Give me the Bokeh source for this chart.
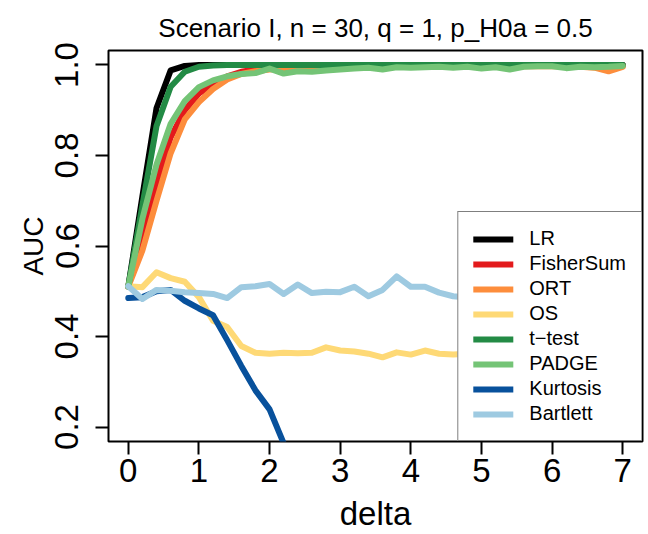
from bokeh.plotting import figure
from bokeh.models import Range1d, FixedTicker, Legend, LegendItem
from bokeh.embed import file_html
from bokeh.resources import INLINE

delta = [0.0, 0.2, 0.4, 0.6, 0.8, 1.0, 1.2, 1.4, 1.6, 1.8, 2.0, 2.2, 2.4, 2.6, 2.8,
         3.0, 3.2, 3.4, 3.6, 3.8, 4.0, 4.2, 4.4, 4.6, 4.8, 5.0, 5.2, 5.4, 5.6, 5.8,
         6.0, 6.2, 6.4, 6.6, 6.8, 7.0]

lr = [0.510, 0.710, 0.905, 0.988, 0.998, 1.000, 1.000, 1.000, 1.000, 1.000, 1.000, 1.000,
      1.000, 1.000, 1.000, 1.000, 1.000, 1.000, 1.000, 1.000, 1.000, 1.000, 1.000, 1.000,
      1.000, 1.000, 1.000, 1.000, 1.000, 1.000, 1.000, 1.000, 1.000, 1.000, 1.000, 1.000]
fishersum = [0.510, 0.630, 0.740, 0.840, 0.900, 0.937, 0.958, 0.975, 0.985, 0.990, 0.993, 0.995,
             0.996, 0.997, 0.997, 0.998, 0.998, 0.998, 0.999, 0.999, 0.999, 0.999, 0.999, 0.999,
             0.999, 0.999, 0.999, 0.999, 0.999, 0.999, 0.999, 0.999, 0.999, 0.999, 0.999, 0.999]
ort = [0.510, 0.590, 0.700, 0.805, 0.880, 0.918, 0.947, 0.968, 0.980, 0.986, 0.990, 0.992,
       0.993, 0.994, 0.995, 0.995, 0.996, 0.996, 0.996, 0.997, 0.997, 0.997, 0.997, 0.997,
       0.997, 0.997, 0.997, 0.997, 0.997, 0.997, 0.997, 0.997, 0.996, 0.994, 0.986, 0.996]
os_ = [0.511, 0.509, 0.542, 0.529, 0.521, 0.487, 0.435, 0.421, 0.379, 0.364, 0.362, 0.364,
       0.363, 0.364, 0.376, 0.369, 0.367, 0.362, 0.354, 0.365, 0.360, 0.369, 0.362, 0.360,
       0.362]
ttest = [0.510, 0.690, 0.865, 0.952, 0.985, 0.996, 0.999, 1.000, 1.000, 1.000, 1.000, 1.000,
         1.000, 1.000, 1.000, 1.000, 1.000, 1.000, 1.000, 1.000, 1.000, 1.000, 1.000, 1.000,
         1.000, 1.000, 1.000, 1.000, 1.000, 1.000, 1.000, 1.000, 1.000, 1.000, 1.000, 1.000]
padge = [0.510, 0.660, 0.780, 0.870, 0.920, 0.951, 0.966, 0.975, 0.980, 0.982, 0.992, 0.981,
         0.986, 0.985, 0.988, 0.990, 0.992, 0.994, 0.990, 0.995, 0.994, 0.995, 0.996, 0.994,
         0.996, 0.992, 0.995, 0.990, 0.996, 0.997, 0.997, 0.993, 0.996, 0.995, 0.996, 0.998]
kurtosis = [0.485, 0.487, 0.500, 0.503, 0.479, 0.462, 0.447, 0.392, 0.335, 0.281, 0.239, 0.164]
bartlett = [0.511, 0.483, 0.503, 0.501, 0.498, 0.496, 0.494, 0.485, 0.509, 0.511, 0.516, 0.494,
            0.515, 0.496, 0.499, 0.498, 0.510, 0.489, 0.503, 0.533, 0.510, 0.510, 0.497, 0.489,
            0.486]

series = [
    ("LR", lr, "#000000"),
    ("FisherSum", fishersum, "#E31A1C"),
    ("ORT", ort, "#FD8D3C"),
    ("OS", os_, "#FED976"),
    ("t\u2212test", ttest, "#238B45"),
    ("PADGE", padge, "#74C476"),
    ("Kurtosis", kurtosis, "#08519C"),
    ("Bartlett", bartlett, "#9ECAE1"),
]

x_ticks = [0, 1, 2, 3, 4, 5, 6, 7]
y_ticks = [0.2, 0.4, 0.6, 0.8, 1.0]
y_tick_labels = ["0.2", "0.4", "0.6", "0.8", "1.0"]

FONT = "Liberation Sans"

p = figure(width=648, height=534, x_range=Range1d(-0.28, 7.28), y_range=Range1d(0.168, 1.032),
           output_backend="svg", toolbar_location=None,
           min_border_left=108, min_border_right=6, min_border_top=50, min_border_bottom=93,
           title="Scenario I, n = 30, q = 1, p_H0a = 0.5")
p.background_fill_color = "white"
p.border_fill_color = "white"
p.grid.visible = False
p.outline_line_color = "black"
p.outline_line_width = 2

p.title.align = "center"
p.title.vertical_align = "top"
p.title.text_font = FONT
p.title.text_font_size = "26px"
p.title.text_font_style = "normal"
p.title.text_color = "black"
p.title.standoff = 12

for ax in (p.xaxis[0], p.yaxis[0]):
    ax.axis_line_color = None
    ax.major_tick_out = 13
    ax.major_tick_in = 0
    ax.major_tick_line_width = 2
    ax.major_tick_line_color = "black"
    ax.minor_tick_line_color = None
    ax.major_label_text_font = FONT
    ax.major_label_text_font_size = "33px"
    ax.major_label_text_color = "black"
    ax.axis_label_text_font = FONT
    ax.axis_label_text_font_style = "normal"
    ax.axis_label_text_color = "black"

p.xaxis.ticker = FixedTicker(ticks=x_ticks)
p.yaxis.ticker = FixedTicker(ticks=y_ticks)
p.yaxis.major_label_overrides = {t: l for t, l in zip(y_ticks, y_tick_labels)}
p.yaxis.major_label_orientation = "vertical"
p.xaxis.axis_label = "delta"
p.yaxis.axis_label = "AUC"
p.xaxis.axis_label_text_font_size = "33px"
p.yaxis.axis_label_text_font_size = "28px"
p.xaxis.major_label_standoff = 4
p.yaxis.major_label_standoff = 17
p.xaxis.axis_label_standoff = 10
p.yaxis.axis_label_standoff = 4

items = []
for name, vals, color in series:
    r = p.line(delta[:len(vals)], vals, line_color=color, line_width=6,
               line_cap="round", line_join="round")
    items.append(LegendItem(label=name, renderers=[r]))

legend = Legend(items=items, location="bottom_right")
legend.margin = 0
legend.padding = 15
legend.spacing = 2
legend.glyph_width = 40
legend.glyph_height = 20
legend.label_height = 20
legend.label_standoff = 16
legend.label_text_font = FONT
legend.label_text_font_size = "20px"
legend.label_text_color = "black"
legend.border_line_color = "black"
legend.border_line_width = 1.5
legend.background_fill_color = "white"
legend.background_fill_alpha = 1.0
p.add_layout(legend)

open("out.html", "w").write(file_html(p, INLINE))
